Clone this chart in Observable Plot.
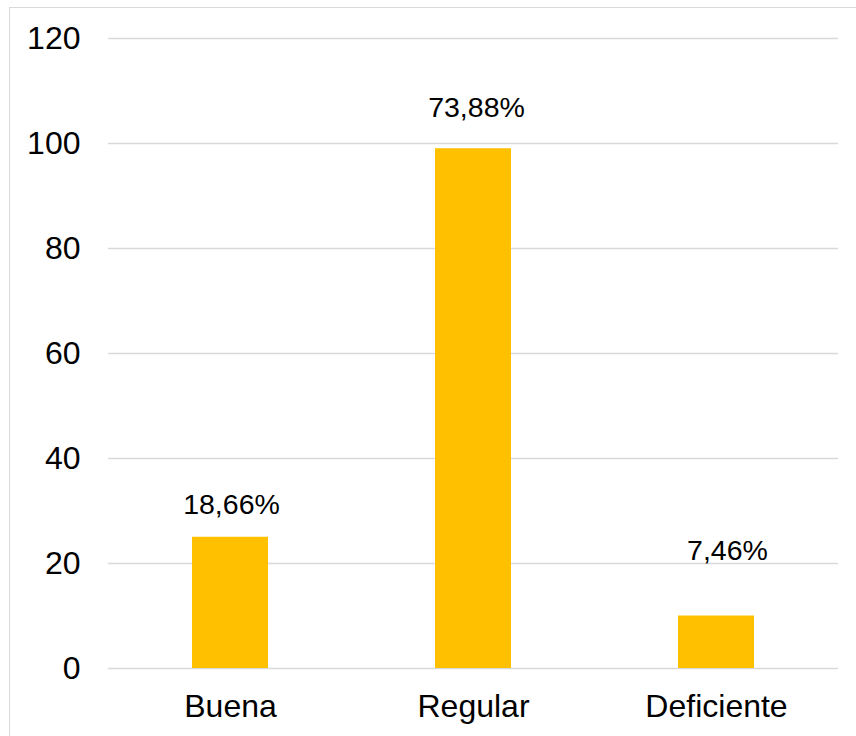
<!DOCTYPE html>
<html>
<head>
<meta charset="utf-8">
<script src="https://cdn.jsdelivr.net/npm/d3@7"></script>
<script src="https://cdn.jsdelivr.net/npm/@observablehq/plot@0.6"></script>
<style>
  html, body { margin: 0; padding: 0; background: #fff; overflow: hidden; }
  #frame {
    position: absolute; left: 9px; top: 7px;
    width: 900px; height: 800px;
    border-left: 1.5px solid #d9d9d9; border-top: 1.5px solid #d9d9d9;
    background: #fff;
  }
  #chart { position: absolute; left: 0; top: 0; }
</style>
</head>
<body>
<div id="frame"><div id="chart"></div></div>
<script>
const categories = ["Buena", "Regular", "Deficiente"];
const values = [25, 99, 10];
const labels = ["18,66%", "73,88%", "7,46%"];
const yTicks = [0, 20, 40, 60, 80, 100, 120];

const data = categories.map((c, i) => ({category: c, value: values[i], label: labels[i]}));

// per-label vertical / horizontal nudges (style only)
const labelDy = [-23, -32, -56];
const labelDx = [1, 3, 11];

const font = "Liberation Sans, Arial, sans-serif";

const labelMarks = data.map((d, i) =>
  Plot.text([d], {
    x: "category", y: "value", text: "label",
    dy: labelDy[i], dx: labelDx[i],
    lineAnchor: "bottom", fontSize: 28.5, fill: "#000"
  })
);

const chart = Plot.plot({
  width: 847,
  height: 729,
  marginLeft: 98,
  marginRight: 19,
  marginTop: 30,
  marginBottom: 69,
  style: {fontFamily: font, background: "transparent", color: "#000"},
  x: {domain: categories, paddingInner: 0.688, paddingOuter: 0.344, label: null},
  y: {domain: [0, 120], label: null},
  marks: [
    Plot.gridY(yTicks, {stroke: "#d9d9d9", strokeOpacity: 1, strokeWidth: 1.5}),
    Plot.barY(data, {x: "category", y: "value", fill: "#FFC000"}),
    Plot.axisY(yTicks, {tickSize: 0, tickPadding: 28, fontSize: 32, fill: "#000", label: null}),
    Plot.axisX({tickSize: 0, tickPadding: 26, fontSize: 32, fill: "#000", label: null}),
    ...labelMarks
  ]
});

document.getElementById("chart").appendChild(chart);
</script>
</body>
</html>
